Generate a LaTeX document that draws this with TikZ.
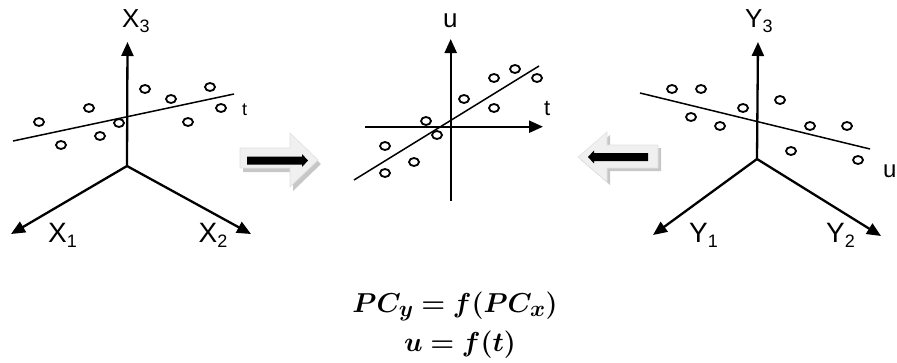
\documentclass[tikz,border=0pt]{standalone}
\usepackage{fontspec}
\setmainfont{Liberation Sans}
\usepackage{amsmath}
\usepackage{bm}
\usetikzlibrary{arrows.meta,shapes.geometric}
\begin{document}
\begin{tikzpicture}[x=1pt,y=-1pt,
  axis/.style={line width=2.3pt,-{Triangle[length=14pt,width=12pt]}},
  trend/.style={line width=1.5pt},
  pt/.style={ellipse,draw,line width=1.8pt,minimum width=10pt,minimum height=8pt,inner sep=0pt},
  toplab/.style={anchor=base west,inner sep=0pt,font=\fontsize{26}{26}\selectfont},
  botlab/.style={anchor=base west,inner sep=0pt,font=\fontsize{28}{28}\selectfont},
  eqn/.style={anchor=base,inner sep=0pt,font=\fontsize{24.88}{25}\selectfont},
  blockout/.style={fill=black!6,draw=black!12,line width=0.6pt},
  blockshadow/.style={fill=black!22},
  blockbar/.style={fill=black}
]
\newcommand{\labsub}[1]{{\fontsize{18}{18}\selectfont\raisebox{-5pt}{#1}}}
\useasboundingbox (0,0) rectangle (897,362);
\clip (0,0) rectangle (897,362);
% ---------------- left plot ----------------
\coordinate (lo) at (127,166);
\coordinate (l3) at (127.5,42);
\coordinate (l1) at (11,234);
\coordinate (l2) at (251,234);
\coordinate (lta) at (13,141);
\coordinate (ltb) at (234,94);
\draw[trend] (lta) -- (ltb);
\draw[axis] (lo) -- (l3);
\draw[axis] (lo) -- (l1);
\draw[axis] (lo) -- (l2);
\foreach \i/\p in {1/{(39,122)},2/{(61,145)},3/{(89,108)},4/{(100,136)},5/{(119,123)},6/{(145,89)},7/{(171,99)},8/{(188,122)},9/{(210,87)},10/{(221,108)}}
  \node[pt] (la\i) at \p {};
\node[toplab] (lx3) at (122,27) {X\labsub{3}};
\node[botlab] (lx1) at (48,242) {X\labsub{1}};
\node[botlab] (lx2) at (198.5,242) {X\labsub{2}};
\node[anchor=base west,inner sep=0pt,font=\fontsize{18}{18}\selectfont] (ltl) at (242,115) {t};
% ---------------- middle plot ----------------
\coordinate (mub) at (450.7,201);
\coordinate (mut) at (450.7,39);
\coordinate (mtl) at (365,126.7);
\coordinate (mtr) at (543,126.7);
\coordinate (mla) at (354,180);
\coordinate (mlb) at (539,66);
\draw[trend] (mla) -- (mlb);
\draw[axis] (mub) -- (mut);
\draw[axis] (mtl) -- (mtr);
\foreach \i/\p in {1/{(385,146)},2/{(385,173)},3/{(414,162)},4/{(426,121)},5/{(437,135)},6/{(464,99)},7/{(494,78)},8/{(494,108)},9/{(515,69)},10/{(537,78)}}
  \node[pt] (ma\i) at \p {};
\node[anchor=base west,inner sep=0pt,font=\fontsize{26}{26}\selectfont] (mul) at (443,27) {u};
\node[anchor=base west,inner sep=0pt,font=\fontsize{22}{22}\selectfont] (mtlab) at (544,115) {t};
% ---------------- right plot ----------------
\coordinate (ro) at (757,159);
\coordinate (r3) at (758,42);
\coordinate (r1) at (653,235);
\coordinate (r2) at (881,236);
\coordinate (rua) at (640,93);
\coordinate (rub) at (870,149);
\draw[trend] (rua) -- (rub);
\draw[axis] (ro) -- (r3);
\draw[axis] (ro) -- (r1);
\draw[axis] (ro) -- (r2);
\foreach \i/\p in {1/{(672,89)},2/{(701,89)},3/{(743,108)},4/{(691,117)},5/{(720,126)},6/{(780,100)},7/{(810,126)},8/{(847,126)},9/{(791,151)},10/{(858,160)}}
  \node[pt] (ra\i) at \p {};
\node[toplab] (ry3) at (745,27) {Y\labsub{3}};
\node[botlab] (ry1) at (689,242) {Y\labsub{1}};
\node[botlab] (ry2) at (826,242) {Y\labsub{2}};
\node[anchor=base west,inner sep=0pt,font=\fontsize{24}{24}\selectfont] (rul) at (883,177) {u};
% ---------------- block arrows ----------------
% right-pointing
\fill[blockshadow] (243,152) -- (293,152) -- (293,137) -- (321,164) -- (293,191) -- (293,172) -- (243,172) -- cycle;
\draw[blockout] (240,148) -- (290,148) -- (290,133) -- (318,160) -- (290,187) -- (290,168) -- (240,168) -- cycle;
\fill[blockbar] (247,156.5) -- (302,156.5) -- (302,154) -- (308,160.5) -- (302,167) -- (302,164.5) -- (247,164.5) -- cycle;
% left-pointing
\fill[blockshadow] (581,160) -- (610,135) -- (610,148) -- (661,148) -- (661,171) -- (610,171) -- (610,185) -- cycle;
\draw[blockout] (578,157) -- (607,132) -- (607,145) -- (658,145) -- (658,168) -- (607,168) -- (607,182) -- cycle;
\fill[blockbar] (588,157) -- (594,150.5) -- (594,153) -- (648,153) -- (648,161) -- (594,161) -- (594,163.5) -- cycle;
% ---------------- equations ----------------
\node[eqn] (eq1) at (455,312) {\scalebox{1.1}{$\bm{PC_y = f(PC_x)}$}};
\node[eqn] (eq2) at (460,351) {\scalebox{1.1}{$\bm{u = f(t)}$}};
\end{tikzpicture}
\end{document}
